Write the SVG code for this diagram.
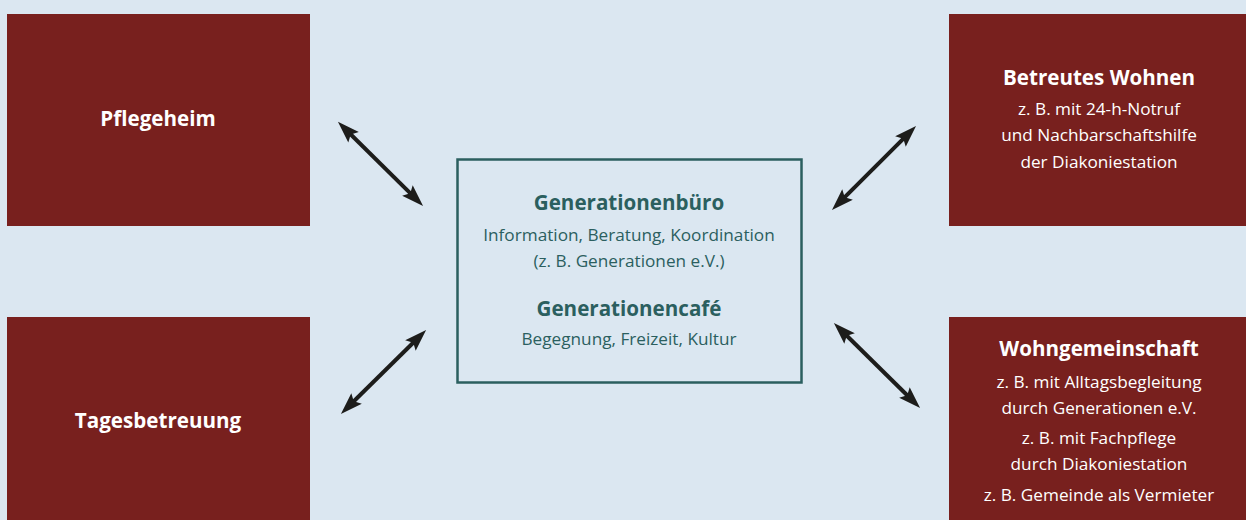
<svg xmlns="http://www.w3.org/2000/svg" width="1246" height="520" viewBox="0 0 1246 520">
<style>
.bg{fill:#dbe7f1}
.box{fill:#78201e}
.center{fill:none;stroke:#2b5f5f;stroke-width:2.5}
text{font-family:"Open Sans","Liberation Sans",sans-serif;text-anchor:middle}
.t{font-weight:700;font-size:20.6px;fill:#ffffff}
.s{font-size:17.2px;fill:#ffffff}
.ct{font-weight:700;font-size:20.6px;fill:#2b5f5f}
.cs{font-size:17.2px;fill:#2b5f5f}
.arr{stroke:#1d1d1b;stroke-width:4;fill:none;marker-start:url(#ah);marker-end:url(#ah)}
</style>
<defs>
<marker id="ah" markerUnits="userSpaceOnUse" markerWidth="24" markerHeight="16" viewBox="0 -8 24 16" refX="6" refY="0" orient="auto-start-reverse" overflow="visible">
<path d="M22,0 L0,-7.5 L4,0 L0,7.5 Z" fill="#1d1d1b"/>
</marker>
</defs>
<rect class="bg" x="0" y="0" width="1246" height="520"/>
<g id="pflegeheim">
<rect class="box" x="7" y="14" width="303" height="212"/>
<text class="t" x="158" y="126">Pflegeheim</text>
</g>
<g id="tagesbetreuung">
<rect class="box" x="7" y="317" width="303" height="203"/>
<text class="t" x="158" y="428">Tagesbetreuung</text>
</g>
<g id="betreutes-wohnen">
<rect class="box" x="949" y="14" width="297" height="212"/>
<text class="t" x="1099" y="85">Betreutes Wohnen</text>
<text class="s" x="1099" y="115">z. B. mit 24-h-Notruf</text>
<text class="s" x="1099" y="141">und Nachbarschaftshilfe</text>
<text class="s" x="1099" y="168">der Diakoniestation</text>
</g>
<g id="wohngemeinschaft">
<rect class="box" x="949" y="317" width="297" height="203"/>
<text class="t" x="1099" y="356">Wohngemeinschaft</text>
<text class="s" x="1099" y="388">z. B. mit Alltagsbegleitung</text>
<text class="s" x="1099" y="414">durch Generationen e.V.</text>
<text class="s" x="1099" y="444">z. B. mit Fachpflege</text>
<text class="s" x="1099" y="470">durch Diakoniestation</text>
<text class="s" x="1099" y="501">z. B. Gemeinde als Vermieter</text>
</g>
<g id="generationenbuero">
<rect class="center" x="457.5" y="159.5" width="344" height="223"/>
<text class="ct" x="629" y="210">Generationenbüro</text>
<text class="cs" x="629" y="241">Information, Beratung, Koordination</text>
<text class="cs" x="629" y="267">(z. B. Generationen e.V.)</text>
<text class="ct" x="629" y="316">Generationencafé</text>
<text class="cs" x="629" y="345">Begegnung, Freizeit, Kultur</text>
</g>
<g id="connectors">
<path class="arr" d="M349.3,133 L411.7,194.7"/>
<path class="arr" d="M904.7,137.3 L843.3,198.7"/>
<path class="arr" d="M414.7,341.3 L352.3,402.7"/>
<path class="arr" d="M845.3,334.3 L908.7,396.7"/>
</g>
</svg>
